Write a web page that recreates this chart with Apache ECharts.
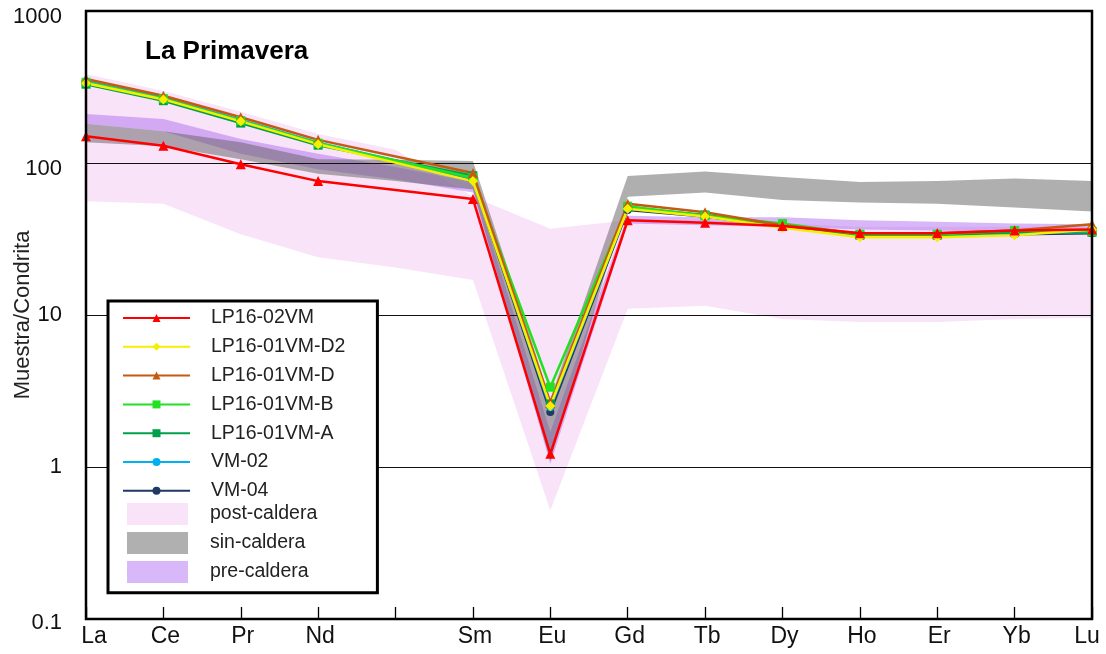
<!DOCTYPE html>
<html>
<head>
<meta charset="utf-8">
<title>La Primavera</title>
<script src="https://cdn.jsdelivr.net/npm/echarts@6/dist/echarts.min.js"></script>
<style>
  html, body { margin: 0; padding: 0; background: #ffffff; }
  #chart { width: 1106px; height: 654px; }
</style>
</head>
<body>
<div id="chart"></div>
<script>
// REE elements (Pm kept as an unlabelled slot so spacing follows the periodic order)
const elements = ['La', 'Ce', 'Pr', 'Nd', '', 'Sm', 'Eu', 'Gd', 'Tb', 'Dy', 'Ho', 'Er', 'Yb', 'Lu'];
const yTickLabels = ['0.1', '1', '10', '100', '1000'];

// chondrite-normalised samples (no Pm analyses)
const lp1602VM   = [150, 130, 98, 76, null, 58, 1.22, 42, 40.5, 38.5, 34.5, 34.5, 36, 36.5];
const lp1601VMD2 = [335, 262, 188, 133, null, 76, 2.52, 50, 44.5, 37.5, 32.5, 32.5, 33.5, 36.5];
const lp1601VMD  = [357, 277, 200, 142, null, 86, 2.65, 54, 47.5, 39, 34.5, 34.5, 36, 39.5];
const lp1601VMB  = [340, 265, 190, 135, null, 80, 3.35, 52, 45, 40, 34, 34, 36, 35.5];
const lp1601VMA  = [330, 257, 183, 131, null, 82.5, 2.6, 51, 45.5, 39, 33.5, 33.5, 35, 35];
const vm02       = [345, 268, 192, 136, null, 79, 2.45, 50, 45, 38.5, 33, 33, 34.5, 35];
const vm04       = [340, 266, 190, 134, null, 78, 2.3, 49, 44.5, 38, 33, 33, 34, 34.5];

// compositional fields of the caldera stages (upper / lower envelope)
const postUpper = [385, 298, 217, 155, 122, 60, 37, 42, 42, 40, 38, 38, 38, 38];
const postLower = [56, 54, 34, 24, 20.5, 17, 0.52, 11, 11.5, 9.4, 9, 9, 9.4, 9.6];
const sinUpper  = [181, 162, 137, 106, 105, 103, 2.8, 82, 88, 81, 75, 76, 79, 76];
const sinLower  = [137, 129, 106, 85, 76, 67, 1.1, 60, 64, 57, 55, 54, 51, 48];
const preUpper  = [210, 195, 144, 115, 94, 75, 1.7, 45, 44, 44, 42, 41, 40, 39.5];
const preLower  = [181, 162, 115, 91, 78, 64, 1.05, 40, 39, 38, 36.5, 36, 35, 35];

const FONT = 'Liberation Sans, Arial, Helvetica, sans-serif';

function bandSeries(name, upper, lower, legendColor, fill, opacity, z) {
  return {
    type: 'custom',
    name: name,
    coordinateSystem: 'cartesian2d',
    z: z,
    silent: true,
    clip: true,
    itemStyle: { color: legendColor },
    data: upper.map((u, i) => [i, u, lower[i]]),
    encode: { x: 0, y: [1, 2] },
    renderItem: function (params, api) {
      if (params.dataIndex !== 0) return null;
      const top = [], bottom = [];
      upper.forEach((u, i) => { if (u != null) top.push(api.coord([i, u])); });
      lower.forEach((l, i) => { if (l != null) bottom.push(api.coord([i, l])); });
      return {
        type: 'polygon',
        shape: { points: top.concat(bottom.reverse()) },
        style: { fill: fill, opacity: opacity, stroke: null }
      };
    }
  };
}

function sampleSeries(name, values, color, symbol, size, z) {
  return {
    type: 'line',
    name: name,
    data: values,
    connectNulls: true,
    symbol: symbol,
    symbolSize: size,
    z: z,
    lineStyle: { color: color, width: 2.5 },
    itemStyle: { color: color },
    emphasis: { disabled: true }
  };
}

const chart = echarts.init(document.getElementById('chart'), null, { renderer: 'canvas' });

const elementLabels = elements.map((e, i) => {
  let pad = [0, 0, 0, 4];
  if (i === 0) pad = [0, 0, 0, 16];
  if (i === elements.length - 1) pad = [0, 10, 0, 0];
  return { value: e, textStyle: { padding: pad } };
});

// per-decade label nudges
const yLabelStyle = ['b', 'm', 'm', 'd', 'd'];

chart.setOption({
  animation: false,
  backgroundColor: '#ffffff',
  textStyle: { fontFamily: FONT },
  title: {
    text: 'La Primavera',
    left: 140,
    top: 34,
    textStyle: { fontFamily: FONT, fontSize: 26, fontWeight: 'bold', color: '#000' }
  },
  grid: {
    left: 86, right: 14, top: 11, bottom: 35,
    containLabel: false,
    outerBoundsMode: 'none',
    show: true, borderColor: '#000', borderWidth: 2.5, z: 10,
    backgroundColor: 'transparent'
  },
  xAxis: {
    type: 'category',
    data: elementLabels,
    boundaryGap: false,
    z: 3,
    axisLine: { show: false },
    axisTick: { show: true, inside: true, length: 12, alignWithLabel: true, interval: 0,
                lineStyle: { color: '#000', width: 1.3 } },
    axisLabel: { interval: 0, margin: 6, fontSize: 23, color: '#111', fontFamily: FONT },
    splitLine: { show: false }
  },
  yAxis: {
    type: 'log',
    logBase: 10,
    min: 0.1,
    max: 1000,
    z: 3,
    name: 'Muestra/Condrita',
    nameLocation: 'middle',
    nameGap: 52,
    nameMoveOverlap: false,
    nameTextStyle: { fontSize: 22, color: '#222', fontFamily: FONT },
    axisLine: { show: false },
    axisTick: { show: false },
    axisLabel: {
      margin: 24, fontSize: 22, color: '#111', fontFamily: FONT,
      formatter: function (v) {
        const k = Math.round(Math.log10(v)) + 1;
        return '{' + yLabelStyle[k] + '|' + yTickLabels[k] + '}';
      },
      rich: {
        d: { fontSize: 22, color: '#111', fontFamily: FONT, padding: [12, 0, 0, 0] },
        m: { fontSize: 22, color: '#111', fontFamily: FONT, padding: [0, 0, 0, 0] },
        b: { fontSize: 22, color: '#111', fontFamily: FONT, padding: [8, 0, 0, 0] }
      }
    },
    splitLine: { show: true, lineStyle: { color: '#111', width: 1.2 } }
  },
  legend: [
    {
      data: ['LP16-02VM', 'LP16-01VM-D2', 'LP16-01VM-D', 'LP16-01VM-B', 'LP16-01VM-A', 'VM-02', 'VM-04'],
      orient: 'vertical',
      left: 108,
      top: 301,
      padding: [7, 32, 92, 14],
      itemWidth: 67,
      itemHeight: 10,
      itemGap: 8.8,
      backgroundColor: '#ffffff',
      borderColor: '#000',
      borderWidth: 3,
      selectedMode: false,
      z: 12,
      formatter: '{t|{name}}',
      textStyle: {
        fontFamily: FONT, fontSize: 19, color: '#222',
        rich: { t: { fontFamily: FONT, fontSize: 19.5, color: '#222', lineHeight: 19, padding: [0, 0, 0, 16] } }
      }
    },
    {
      data: ['post-caldera', 'sin-caldera', 'pre-caldera'],
      orient: 'vertical',
      left: 127,
      top: 503,
      padding: 0,
      icon: 'rect',
      itemWidth: 61,
      itemHeight: 22,
      itemGap: 7,
      selectedMode: false,
      z: 13,
      formatter: '{t|{name}}',
      textStyle: {
        fontFamily: FONT, fontSize: 19, color: '#222',
        rich: { t: { fontFamily: FONT, fontSize: 19.5, color: '#222', lineHeight: 19, padding: [0, 0, 0, 17] } }
      }
    }
  ],
  series: [
    bandSeries('post-caldera', postUpper, postLower, '#f8e3f8', '#f8e3f8', 1, 1),
    bandSeries('pre-caldera', preUpper, preLower, '#d8b8f8', '#b070f0', 0.5, 1),
    bandSeries('sin-caldera', sinUpper, sinLower, '#b0b0b0', '#606060', 0.5, 1),
    sampleSeries('VM-04', vm04, '#1f3864', 'circle', 8, 5),
    sampleSeries('VM-02', vm02, '#00b0f0', 'circle', 7, 5),
    sampleSeries('LP16-01VM-A', lp1601VMA, '#00a04a', 'rect', 9, 5),
    sampleSeries('LP16-01VM-B', lp1601VMB, '#22e022', 'rect', 9, 5),
    sampleSeries('LP16-01VM-D', lp1601VMD, '#c55a11', 'triangle', 10, 5),
    sampleSeries('LP16-01VM-D2', lp1601VMD2, '#f5f000', 'diamond', 10, 5),
    sampleSeries('LP16-02VM', lp1602VM, '#ff0000', 'triangle', 10, 6)
  ]
});
</script>
</body>
</html>
